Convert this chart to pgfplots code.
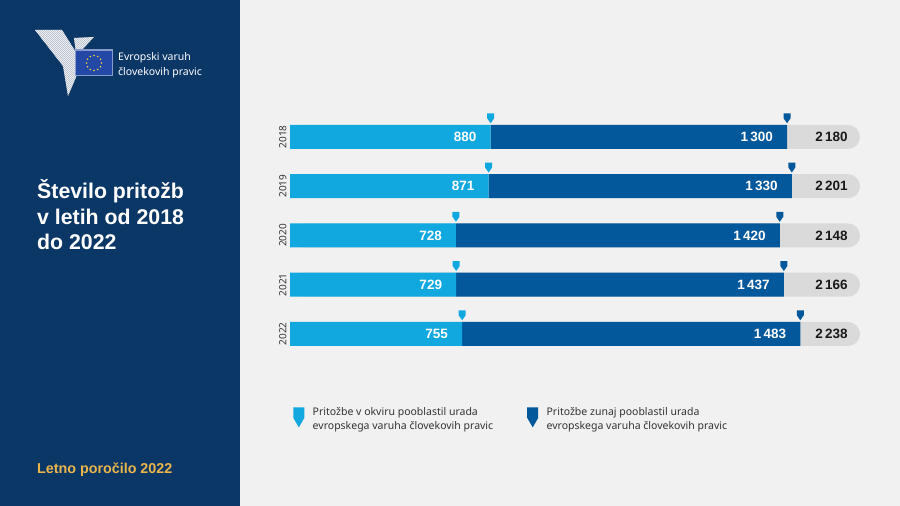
\documentclass[border=0pt]{standalone}
\usepackage{pgfplots}
\pgfplotsset{compat=1.18}
\usepackage{fontspec}
\setmainfont{Noto Sans}
\newfontfamily\boldf{Liberation Sans}
\definecolor{navy}{HTML}{0B3766}
\definecolor{lblue}{HTML}{11A8E0}
\definecolor{dblue}{HTML}{03589B}
\definecolor{bg}{HTML}{F1F1F1}
\definecolor{gbox}{HTML}{DADADA}
\definecolor{gold}{HTML}{E9B64C}
\definecolor{txt}{HTML}{333333}
\definecolor{eublue}{HTML}{2448A5}
\definecolor{eugold}{HTML}{F2D23C}
\definecolor{wing}{HTML}{A9B3C2}

\pgfdeclareplotmark{shield}{%
 \pgfpathmoveto{\pgfpoint{-3.5pt}{5pt}}%
 \pgfpathlineto{\pgfpoint{3.5pt}{5pt}}%
 \pgfpathlineto{\pgfpoint{3.5pt}{0pt}}%
 \pgfpathlineto{\pgfpoint{0pt}{-5pt}}%
 \pgfpathlineto{\pgfpoint{-3.5pt}{0pt}}%
 \pgfpathclose\pgfusepathqfill}

\pgfplotsset{base/.style={scale only axis, width=570pt, height=246.25pt,
  at={(290pt,147.4pt)}, anchor=south west, xmin=0, xmax=2500,
  ymin=-0.5, ymax=4.5, y dir=reverse, clip=false}}
\tikzset{
  lab/.style={anchor=east, inner sep=0, text=white, font=\boldf\bfseries\fontsize{13.5}{14}\selectfont, xshift=-14pt},
  tot/.style={anchor=east, inner sep=0, text=black!90, font=\boldf\bfseries\fontsize{13.5}{14}\selectfont}}

\begin{document}
\begin{tikzpicture}[x=1pt,y=1pt]
\fill[bg] (0,0) rectangle (900,506);
\fill[navy] (0,0) rectangle (240,506);
\begin{scope}[yshift=506pt, yscale=-1]
 % logo wings
 \begin{scope}
 \clip (35,30) -- (62,30) -- (77,54) -- (77,75) -- (68,96) -- (63,66) -- cycle
       (74,38) -- (94,37) -- (80,52) -- (76,53) -- cycle;
 \fill[wing] (30,25) rectangle (100,100);
 \foreach \i in {0,2,...,140} \draw[white!85!wing, line width=0.7pt] (30+\i-70,25) -- (30+\i+5,100);
 \end{scope}
 \fill[eublue!55!white] (75,49.5) rectangle (113,76.5);
 \fill[eublue] (76.2,50.7) rectangle (111.8,75.3);
 \foreach \a in {0,30,...,330} \fill[eugold] ([shift={(\a:7.5)}]94,63) circle (0.95);
 \node[anchor=base west, inner sep=0, text=white, font=\fontsize{10.5}{12}\selectfont] at (118,61) {Evropski varuh};
 \node[anchor=base west, inner sep=0, text=white, font=\fontsize{10.5}{12}\selectfont] at (118,75.5) {človekovih pravic};
 % title
 \node[anchor=base west, inner sep=0, text=white, font=\boldf\bfseries\fontsize{21.3}{24}\selectfont] at (37,199) {Število pritožb};
 \node[anchor=base west, inner sep=0, text=white, font=\boldf\bfseries\fontsize{21.3}{24}\selectfont] at (37,225) {v letih od 2018};
 \node[anchor=base west, inner sep=0, text=white, font=\boldf\bfseries\fontsize{21.3}{24}\selectfont] at (37,250) {do 2022};
 \node[anchor=base west, inner sep=0, text=gold, font=\boldf\bfseries\fontsize{14.3}{16}\selectfont] at (37,474) {Letno poročilo 2022};
\end{scope}

\begin{axis}[base, hide axis]
\addplot[xbar, bar width=24pt, fill=gbox, draw=none, rounded corners=12pt]
  coordinates {(2500,0)(2500,1)(2500,2)(2500,3)(2500,4)};
\addplot[only marks, mark=shield, color=lblue]
  coordinates {(880,-0.38)(871,0.62)(728,1.62)(729,2.62)(755,3.62)};
\addplot[only marks, mark=shield, color=dblue]
  coordinates {(2180,-0.38)(2201,0.62)(2148,1.62)(2166,2.62)(2238,3.62)};
\end{axis}

\begin{axis}[base, xbar stacked, bar width=24pt,
  ytick={0,1,2,3,4}, yticklabels={2018,2019,2020,2021,2022},
  xtick=\empty, major tick length=0pt, axis line style={draw=none},
  yticklabel style={rotate=90, anchor=south, font=\fontsize{10}{11}\selectfont, text=txt},
  legend columns=2,
  legend style={at={(0.0055,-0.19)}, anchor=north west, draw=none, fill=none,
    inner sep=0pt, font=\fontsize{10.5}{14}\selectfont, text=txt,
    cells={align=left, anchor=west},
    /tikz/every odd column/.append style={column sep=6.4pt},
    /tikz/every even column/.append style={column sep=32pt}}]
\addplot[fill=lblue, draw=none, legend image code/.code={\fill[lblue] (0pt,12pt) -- (11pt,12pt) -- (11pt,1.5pt) -- (5.5pt,-8pt) -- (0pt,1.5pt) -- cycle;}]
  coordinates {(880,0)(871,1)(728,2)(729,3)(755,4)};
\addplot[fill=dblue, draw=none, legend image code/.code={\fill[dblue] (0pt,12pt) -- (11pt,12pt) -- (11pt,1.5pt) -- (5.5pt,-8pt) -- (0pt,1.5pt) -- cycle;}]
  coordinates {(1300,0)(1330,1)(1420,2)(1437,3)(1483,4)};
\addlegendentry{Pritožbe v okviru pooblastil urada\\evropskega varuha človekovih pravic}
\addlegendentry{Pritožbe zunaj pooblastil urada\\evropskega varuha človekovih pravic}
\end{axis}

\begin{axis}[base, hide axis]
\node[lab] at (axis cs:880,0) {880};
\node[lab] at (axis cs:871,1) {871};
\node[lab] at (axis cs:728,2) {728};
\node[lab] at (axis cs:729,3) {729};
\node[lab] at (axis cs:755,4) {755};
\node[lab] at (axis cs:2180,0) {1\,300};
\node[lab] at (axis cs:2201,1) {1\,330};
\node[lab] at (axis cs:2148,2) {1\,420};
\node[lab] at (axis cs:2166,3) {1\,437};
\node[lab] at (axis cs:2238,4) {1\,483};
\node[tot] at (axis cs:2447,0) {2\,180};
\node[tot] at (axis cs:2447,1) {2\,201};
\node[tot] at (axis cs:2447,2) {2\,148};
\node[tot] at (axis cs:2447,3) {2\,166};
\node[tot] at (axis cs:2447,4) {2\,238};
\end{axis}
\pgfresetboundingbox
\useasboundingbox (0,0) rectangle (900,506);
\end{tikzpicture}
\end{document}
